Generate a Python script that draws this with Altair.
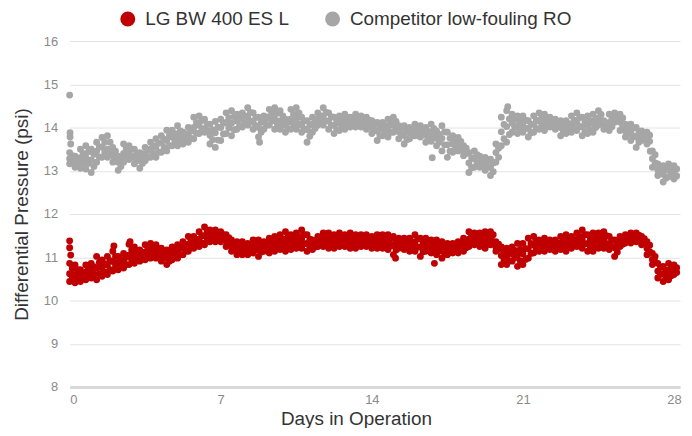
import altair as alt
import pandas as pd

RED_NAME = "LG BW 400 ES L"
GRAY_NAME = "Competitor low-fouling RO"

# sample times (days), every 6 hours from day 0 to day 28
days = [i * 0.25 for i in range(113)]

# Competitor low-fouling RO: five readings across the point cloud per sample time (psi)
gray_top = [
    13.42, 13.34, 13.50, 13.58, 13.50, 13.66, 13.77, 13.81, 13.54, 13.34, 13.62, 13.58,
    13.50, 13.42, 13.54, 13.66, 13.74, 13.81, 13.94, 13.94, 14.04, 13.89, 14.00, 14.24,
    14.27, 14.19, 14.08, 14.14, 14.19, 14.34, 14.39, 14.31, 14.34, 14.46, 14.34, 14.24,
    14.27, 14.42, 14.46, 14.39, 14.19, 14.42, 14.46, 14.24, 14.16, 14.24, 14.34, 14.46,
    14.34, 14.24, 14.27, 14.31, 14.24, 14.31, 14.27, 14.24, 14.16, 14.12, 14.12, 14.19,
    14.24, 14.04, 14.04, 14.00, 14.08, 14.04, 14.00, 14.08, 13.92, 14.04, 13.89, 13.81,
    13.77, 13.58, 13.42, 13.46, 13.34, 13.31, 13.27, 13.62, 14.24, 14.39, 14.31, 14.27,
    14.27, 14.16, 14.27, 14.34, 14.31, 14.24, 14.19, 14.16, 14.16, 14.27, 14.34, 14.24,
    14.27, 14.31, 14.39, 14.16, 14.31, 14.34, 14.31, 14.08, 14.08, 14.00, 13.92, 13.89,
    13.46, 13.16, 13.12, 13.16, 13.12,
]
gray_hi = [
    13.35, 13.28, 13.40, 13.44, 13.38, 13.55, 13.66, 13.66, 13.45, 13.27, 13.51, 13.50,
    13.40, 13.35, 13.47, 13.58, 13.64, 13.73, 13.82, 13.86, 13.92, 13.84, 13.92, 14.12,
    14.16, 14.08, 13.95, 14.01, 14.10, 14.23, 14.25, 14.23, 14.27, 14.35, 14.23, 14.12,
    14.21, 14.33, 14.33, 14.27, 14.12, 14.31, 14.34, 14.15, 14.05, 14.16, 14.27, 14.35,
    14.25, 14.15, 14.18, 14.21, 14.18, 14.23, 14.20, 14.17, 14.08, 14.02, 14.04, 14.10,
    14.14, 13.97, 13.93, 13.94, 14.01, 13.97, 13.91, 13.98, 13.84, 13.90, 13.75, 13.72,
    13.68, 13.52, 13.30, 13.37, 13.27, 13.23, 13.18, 13.52, 14.07, 14.20, 14.20, 14.16,
    14.17, 14.07, 14.17, 14.24, 14.22, 14.18, 14.13, 14.08, 14.09, 14.17, 14.23, 14.13,
    14.16, 14.20, 14.30, 14.10, 14.22, 14.28, 14.22, 14.00, 13.99, 13.89, 13.86, 13.82,
    13.37, 13.09, 13.02, 13.09, 13.04,
]
gray_mid = [
    13.28, 13.22, 13.30, 13.30, 13.25, 13.45, 13.55, 13.50, 13.35, 13.20, 13.40, 13.42,
    13.30, 13.28, 13.40, 13.50, 13.55, 13.65, 13.70, 13.78, 13.80, 13.78, 13.85, 14.00,
    14.05, 13.98, 13.82, 13.88, 14.00, 14.12, 14.10, 14.15, 14.20, 14.25, 14.12, 14.00,
    14.15, 14.25, 14.20, 14.15, 14.05, 14.20, 14.22, 14.05, 13.95, 14.08, 14.20, 14.25,
    14.15, 14.05, 14.10, 14.12, 14.12, 14.15, 14.12, 14.10, 14.00, 13.92, 13.96, 14.00,
    14.05, 13.90, 13.82, 13.88, 13.95, 13.90, 13.82, 13.88, 13.75, 13.75, 13.60, 13.62,
    13.60, 13.45, 13.18, 13.28, 13.20, 13.15, 13.08, 13.42, 13.90, 14.02, 14.10, 14.05,
    14.08, 13.98, 14.08, 14.15, 14.12, 14.12, 14.08, 14.00, 14.02, 14.08, 14.12, 14.02,
    14.05, 14.10, 14.22, 14.05, 14.12, 14.22, 14.12, 13.92, 13.90, 13.78, 13.80, 13.75,
    13.28, 13.02, 12.92, 13.02, 12.96,
]
gray_lo = [
    13.22, 13.15, 13.18, 13.17, 13.10, 13.32, 13.43, 13.40, 13.28, 13.10, 13.30, 13.34,
    13.23, 13.17, 13.31, 13.40, 13.43, 13.54, 13.58, 13.68, 13.69, 13.70, 13.75, 13.87,
    13.95, 13.93, 13.72, 13.71, 13.85, 13.99, 13.95, 14.05, 14.10, 14.15, 14.04, 13.89,
    14.05, 14.15, 14.08, 14.05, 13.97, 14.08, 14.09, 13.97, 13.80, 13.98, 14.13, 14.15,
    14.05, 13.95, 14.01, 14.04, 14.06, 14.08, 14.06, 14.03, 13.93, 13.81, 13.88, 13.89,
    13.97, 13.82, 13.72, 13.81, 13.88, 13.84, 13.74, 13.78, 13.66, 13.60, 13.45, 13.52,
    13.53, 13.40, 13.07, 13.18, 13.14, 13.08, 12.98, 13.31, 13.74, 13.84, 14.00, 13.95,
    13.98, 13.88, 13.98, 14.05, 14.02, 14.06, 14.02, 13.90, 13.94, 13.98, 14.02, 13.91,
    13.95, 14.00, 14.14, 14.00, 14.02, 14.17, 14.02, 13.85, 13.80, 13.66, 13.75, 13.68,
    13.18, 12.95, 12.83, 12.94, 12.88,
]
gray_bot = [
    13.16, 13.08, 13.06, 13.04, 12.96, 13.20, 13.31, 13.31, 13.20, 13.01, 13.20, 13.26,
    13.16, 13.06, 13.23, 13.31, 13.31, 13.43, 13.46, 13.58, 13.58, 13.62, 13.66, 13.74,
    13.86, 13.89, 13.62, 13.54, 13.70, 13.86, 13.81, 13.96, 14.01, 14.06, 13.96, 13.78,
    13.96, 14.06, 13.96, 13.96, 13.89, 13.96, 13.96, 13.89, 13.66, 13.89, 14.06, 14.06,
    13.96, 13.86, 13.93, 13.96, 14.01, 14.01, 14.01, 13.96, 13.86, 13.70, 13.81, 13.78,
    13.89, 13.74, 13.62, 13.74, 13.81, 13.78, 13.66, 13.68, 13.58, 13.46, 13.31, 13.43,
    13.46, 13.35, 12.96, 13.08, 13.08, 13.01, 12.89, 13.20, 13.58, 13.66, 13.89, 13.86,
    13.89, 13.78, 13.89, 13.96, 13.93, 14.01, 13.96, 13.81, 13.86, 13.89, 13.93, 13.81,
    13.86, 13.89, 14.06, 13.96, 13.93, 14.12, 13.93, 13.78, 13.70, 13.54, 13.70, 13.62,
    13.08, 12.89, 12.74, 12.86, 12.81,
]

# LG BW 400 ES L: five readings across the point cloud per sample time (psi)
red_top = [
    10.86, 10.82, 10.71, 10.82, 10.86, 11.02, 10.94, 11.02, 11.14, 11.02, 11.09, 11.30,
    11.24, 11.17, 11.29, 11.32, 11.29, 11.21, 11.17, 11.24, 11.29, 11.36, 11.48, 11.48,
    11.59, 11.70, 11.63, 11.63, 11.59, 11.52, 11.40, 11.36, 11.36, 11.32, 11.40, 11.40,
    11.36, 11.44, 11.48, 11.52, 11.59, 11.52, 11.56, 11.63, 11.52, 11.40, 11.48, 11.56,
    11.56, 11.52, 11.56, 11.52, 11.56, 11.52, 11.52, 11.52, 11.48, 11.52, 11.52, 11.52,
    11.48, 11.44, 11.44, 11.44, 11.52, 11.44, 11.44, 11.40, 11.40, 11.36, 11.32, 11.32,
    11.36, 11.44, 11.59, 11.56, 11.56, 11.59, 11.59, 11.36, 11.24, 11.21, 11.24, 11.32,
    11.32, 11.44, 11.48, 11.40, 11.44, 11.40, 11.40, 11.48, 11.52, 11.48, 11.56, 11.63,
    11.52, 11.56, 11.56, 11.59, 11.48, 11.40, 11.48, 11.52, 11.56, 11.56, 11.48, 11.36,
    11.09, 10.86, 10.79, 10.86, 10.82,
]
red_hi = [
    10.74, 10.71, 10.65, 10.74, 10.78, 10.88, 10.85, 10.92, 11.02, 10.95, 11.00, 11.17,
    11.14, 11.11, 11.20, 11.23, 11.21, 11.13, 11.08, 11.17, 11.22, 11.29, 11.39, 11.41,
    11.50, 11.60, 11.56, 11.55, 11.52, 11.45, 11.33, 11.28, 11.28, 11.25, 11.32, 11.31,
    11.30, 11.36, 11.40, 11.43, 11.48, 11.43, 11.48, 11.52, 11.42, 11.35, 11.42, 11.48,
    11.47, 11.44, 11.48, 11.45, 11.47, 11.44, 11.45, 11.45, 11.41, 11.44, 11.44, 11.43,
    11.38, 11.38, 11.37, 11.36, 11.42, 11.34, 11.36, 11.32, 11.31, 11.27, 11.25, 11.27,
    11.30, 11.37, 11.50, 11.49, 11.48, 11.50, 11.52, 11.30, 11.14, 11.12, 11.16, 11.18,
    11.20, 11.32, 11.38, 11.33, 11.36, 11.34, 11.33, 11.40, 11.42, 11.41, 11.48, 11.52,
    11.42, 11.46, 11.47, 11.50, 11.40, 11.31, 11.42, 11.47, 11.50, 11.51, 11.43, 11.28,
    11.02, 10.77, 10.70, 10.76, 10.76,
]
red_mid = [
    10.62, 10.60, 10.58, 10.66, 10.70, 10.75, 10.76, 10.82, 10.90, 10.88, 10.92, 11.05,
    11.05, 11.05, 11.12, 11.15, 11.14, 11.06, 11.00, 11.10, 11.15, 11.22, 11.30, 11.35,
    11.42, 11.50, 11.50, 11.48, 11.46, 11.38, 11.26, 11.20, 11.20, 11.18, 11.25, 11.22,
    11.25, 11.28, 11.32, 11.35, 11.38, 11.35, 11.40, 11.42, 11.32, 11.30, 11.36, 11.40,
    11.38, 11.36, 11.40, 11.38, 11.38, 11.36, 11.38, 11.38, 11.35, 11.36, 11.36, 11.34,
    11.28, 11.32, 11.30, 11.28, 11.32, 11.24, 11.28, 11.25, 11.22, 11.18, 11.18, 11.22,
    11.24, 11.30, 11.42, 11.42, 11.40, 11.40, 11.44, 11.24, 11.04, 11.02, 11.08, 11.05,
    11.08, 11.20, 11.28, 11.26, 11.28, 11.28, 11.26, 11.32, 11.32, 11.34, 11.40, 11.42,
    11.32, 11.35, 11.38, 11.40, 11.32, 11.22, 11.36, 11.42, 11.45, 11.46, 11.38, 11.20,
    10.95, 10.68, 10.62, 10.66, 10.70,
]
red_lo = [
    10.53, 10.50, 10.51, 10.57, 10.61, 10.62, 10.66, 10.71, 10.79, 10.80, 10.83, 10.94,
    10.96, 10.98, 11.03, 11.06, 11.06, 10.98, 10.91, 11.02, 11.06, 11.14, 11.22, 11.28,
    11.33, 11.40, 11.43, 11.42, 11.41, 11.31, 11.20, 11.13, 11.13, 11.12, 11.17, 11.12,
    11.19, 11.19, 11.23, 11.26, 11.26, 11.26, 11.30, 11.31, 11.23, 11.24, 11.30, 11.32,
    11.30, 11.28, 11.32, 11.31, 11.30, 11.28, 11.31, 11.31, 11.28, 11.28, 11.28, 11.26,
    11.17, 11.26, 11.24, 11.21, 11.23, 11.13, 11.21, 11.17, 11.14, 11.08, 11.12, 11.16,
    11.17, 11.22, 11.33, 11.35, 11.32, 11.30, 11.36, 11.19, 10.93, 10.92, 10.99, 10.92,
    10.95, 11.09, 11.19, 11.20, 11.21, 11.23, 11.20, 11.25, 11.23, 11.27, 11.32, 11.31,
    11.23, 11.24, 11.30, 11.30, 11.25, 11.12, 11.30, 11.37, 11.39, 11.41, 11.33, 11.13,
    10.89, 10.60, 10.53, 10.57, 10.65,
]
red_bot = [
    10.44, 10.41, 10.44, 10.48, 10.52, 10.48, 10.56, 10.60, 10.68, 10.71, 10.75, 10.83,
    10.86, 10.91, 10.94, 10.98, 10.98, 10.91, 10.83, 10.94, 10.98, 11.06, 11.14, 11.21,
    11.25, 11.29, 11.36, 11.36, 11.36, 11.25, 11.14, 11.06, 11.06, 11.06, 11.10, 11.02,
    11.14, 11.10, 11.14, 11.18, 11.14, 11.18, 11.21, 11.21, 11.14, 11.18, 11.25, 11.25,
    11.21, 11.21, 11.25, 11.25, 11.21, 11.21, 11.25, 11.25, 11.21, 11.21, 11.21, 11.18,
    11.06, 11.21, 11.18, 11.14, 11.14, 11.02, 11.14, 11.10, 11.06, 10.98, 11.06, 11.10,
    11.10, 11.14, 11.25, 11.29, 11.25, 11.21, 11.29, 11.14, 10.83, 10.83, 10.91, 10.79,
    10.83, 10.98, 11.10, 11.14, 11.14, 11.18, 11.14, 11.18, 11.14, 11.21, 11.25, 11.21,
    11.14, 11.14, 11.21, 11.21, 11.18, 11.02, 11.25, 11.33, 11.33, 11.36, 11.29, 11.06,
    10.83, 10.52, 10.44, 10.48, 10.60,
]

# isolated points outside the main cloud (day, psi)
gray_out_days = [0.0, 0.02, 0.02, 0.05, 16.8, 20.3, 8.8, 26.9]
gray_out_vals = [14.75, 13.88, 13.78, 13.62, 13.30, 14.48, 13.66, 13.45]
red_out_days = [0.0, 0.0, 0.05, 15.1, 16.9, 2.05, 2.8]
red_out_vals = [11.38, 11.22, 11.05, 10.98, 10.86, 11.26, 11.36]

RED = "#C00000"
GRAY = "#A6A6A6"

rows = []
for i, d in enumerate(days):
    for name, vals, off in [
        (GRAY_NAME, gray_top, 0.0), (GRAY_NAME, gray_hi, 0.125), (GRAY_NAME, gray_mid, 0.0),
        (GRAY_NAME, gray_lo, 0.125), (GRAY_NAME, gray_bot, 0.0),
        (RED_NAME, red_top, 0.0), (RED_NAME, red_hi, 0.125), (RED_NAME, red_mid, 0.0),
        (RED_NAME, red_lo, 0.125), (RED_NAME, red_bot, 0.0),
    ]:
        rows.append({"day": d + off, "psi": vals[i], "series": name})
for d, v in zip(gray_out_days, gray_out_vals):
    rows.append({"day": d, "psi": v, "series": GRAY_NAME})
for d, v in zip(red_out_days, red_out_vals):
    rows.append({"day": d, "psi": v, "series": RED_NAME})
df = pd.DataFrame(rows)

FONT = "Liberation Sans"

chart = (
    alt.Chart(df)
    .mark_circle(size=48, opacity=1)
    .encode(
        x=alt.X(
            "day:Q",
            scale=alt.Scale(domain=[0, 28.28], nice=False, zero=False),
            axis=alt.Axis(
                values=[0, 7, 14, 21, 28],
                title="Days in Operation",
                grid=False,
                ticks=False,
                domain=True,
                domainColor="#d9d9d9",
                domainWidth=3,
                labelPadding=7,
                labelFontSize=13,
                labelColor="#8a8a8a",
                labelFont=FONT,
                titleFontSize=19,
                titleFontWeight="normal",
                titleColor="#333333",
                titleFont=FONT,
                titlePadding=3,
                titleX=288,
            ),
        ),
        y=alt.Y(
            "psi:Q",
            scale=alt.Scale(domain=[8, 16], nice=False, zero=False),
            axis=alt.Axis(
                values=[8, 9, 10, 11, 12, 13, 14, 15, 16],
                title="Differential Pressure (psi)",
                grid=True,
                gridColor="#e3e3e3",
                gridWidth=1,
                ticks=False,
                domain=False,
                labelPadding=12,
                labelFontSize=13,
                labelColor="#8a8a8a",
                labelFont=FONT,
                titleFontSize=19,
                titleFontWeight="normal",
                titleColor="#333333",
                titleFont=FONT,
                titlePadding=12,
            ),
        ),
        color=alt.Color(
            "series:N",
            scale=alt.Scale(domain=[RED_NAME, GRAY_NAME], range=[RED, GRAY]),
            legend=alt.Legend(
                title=None,
                orient="none",
                direction="horizontal",
                legendX=49,
                legendY=-32,
                symbolType="circle",
                symbolSize=225,
                symbolStrokeWidth=0,
                symbolOpacity=1,
                labelFontSize=19,
                labelColor="#333333",
                labelFont=FONT,
                labelLimit=400,
                labelOffset=8,
                columnPadding=34,
                padding=0,
            ),
        ),
    )
    .properties(
        width=614,
        height=348,
        autosize=alt.AutoSizeParams(type="none"),
        padding={"left": 62, "top": 32, "right": 4, "bottom": 40},
    )
    .configure_view(stroke=None)
)

chart.save("out.html", embed_options={"renderer": "svg", "actions": False})
